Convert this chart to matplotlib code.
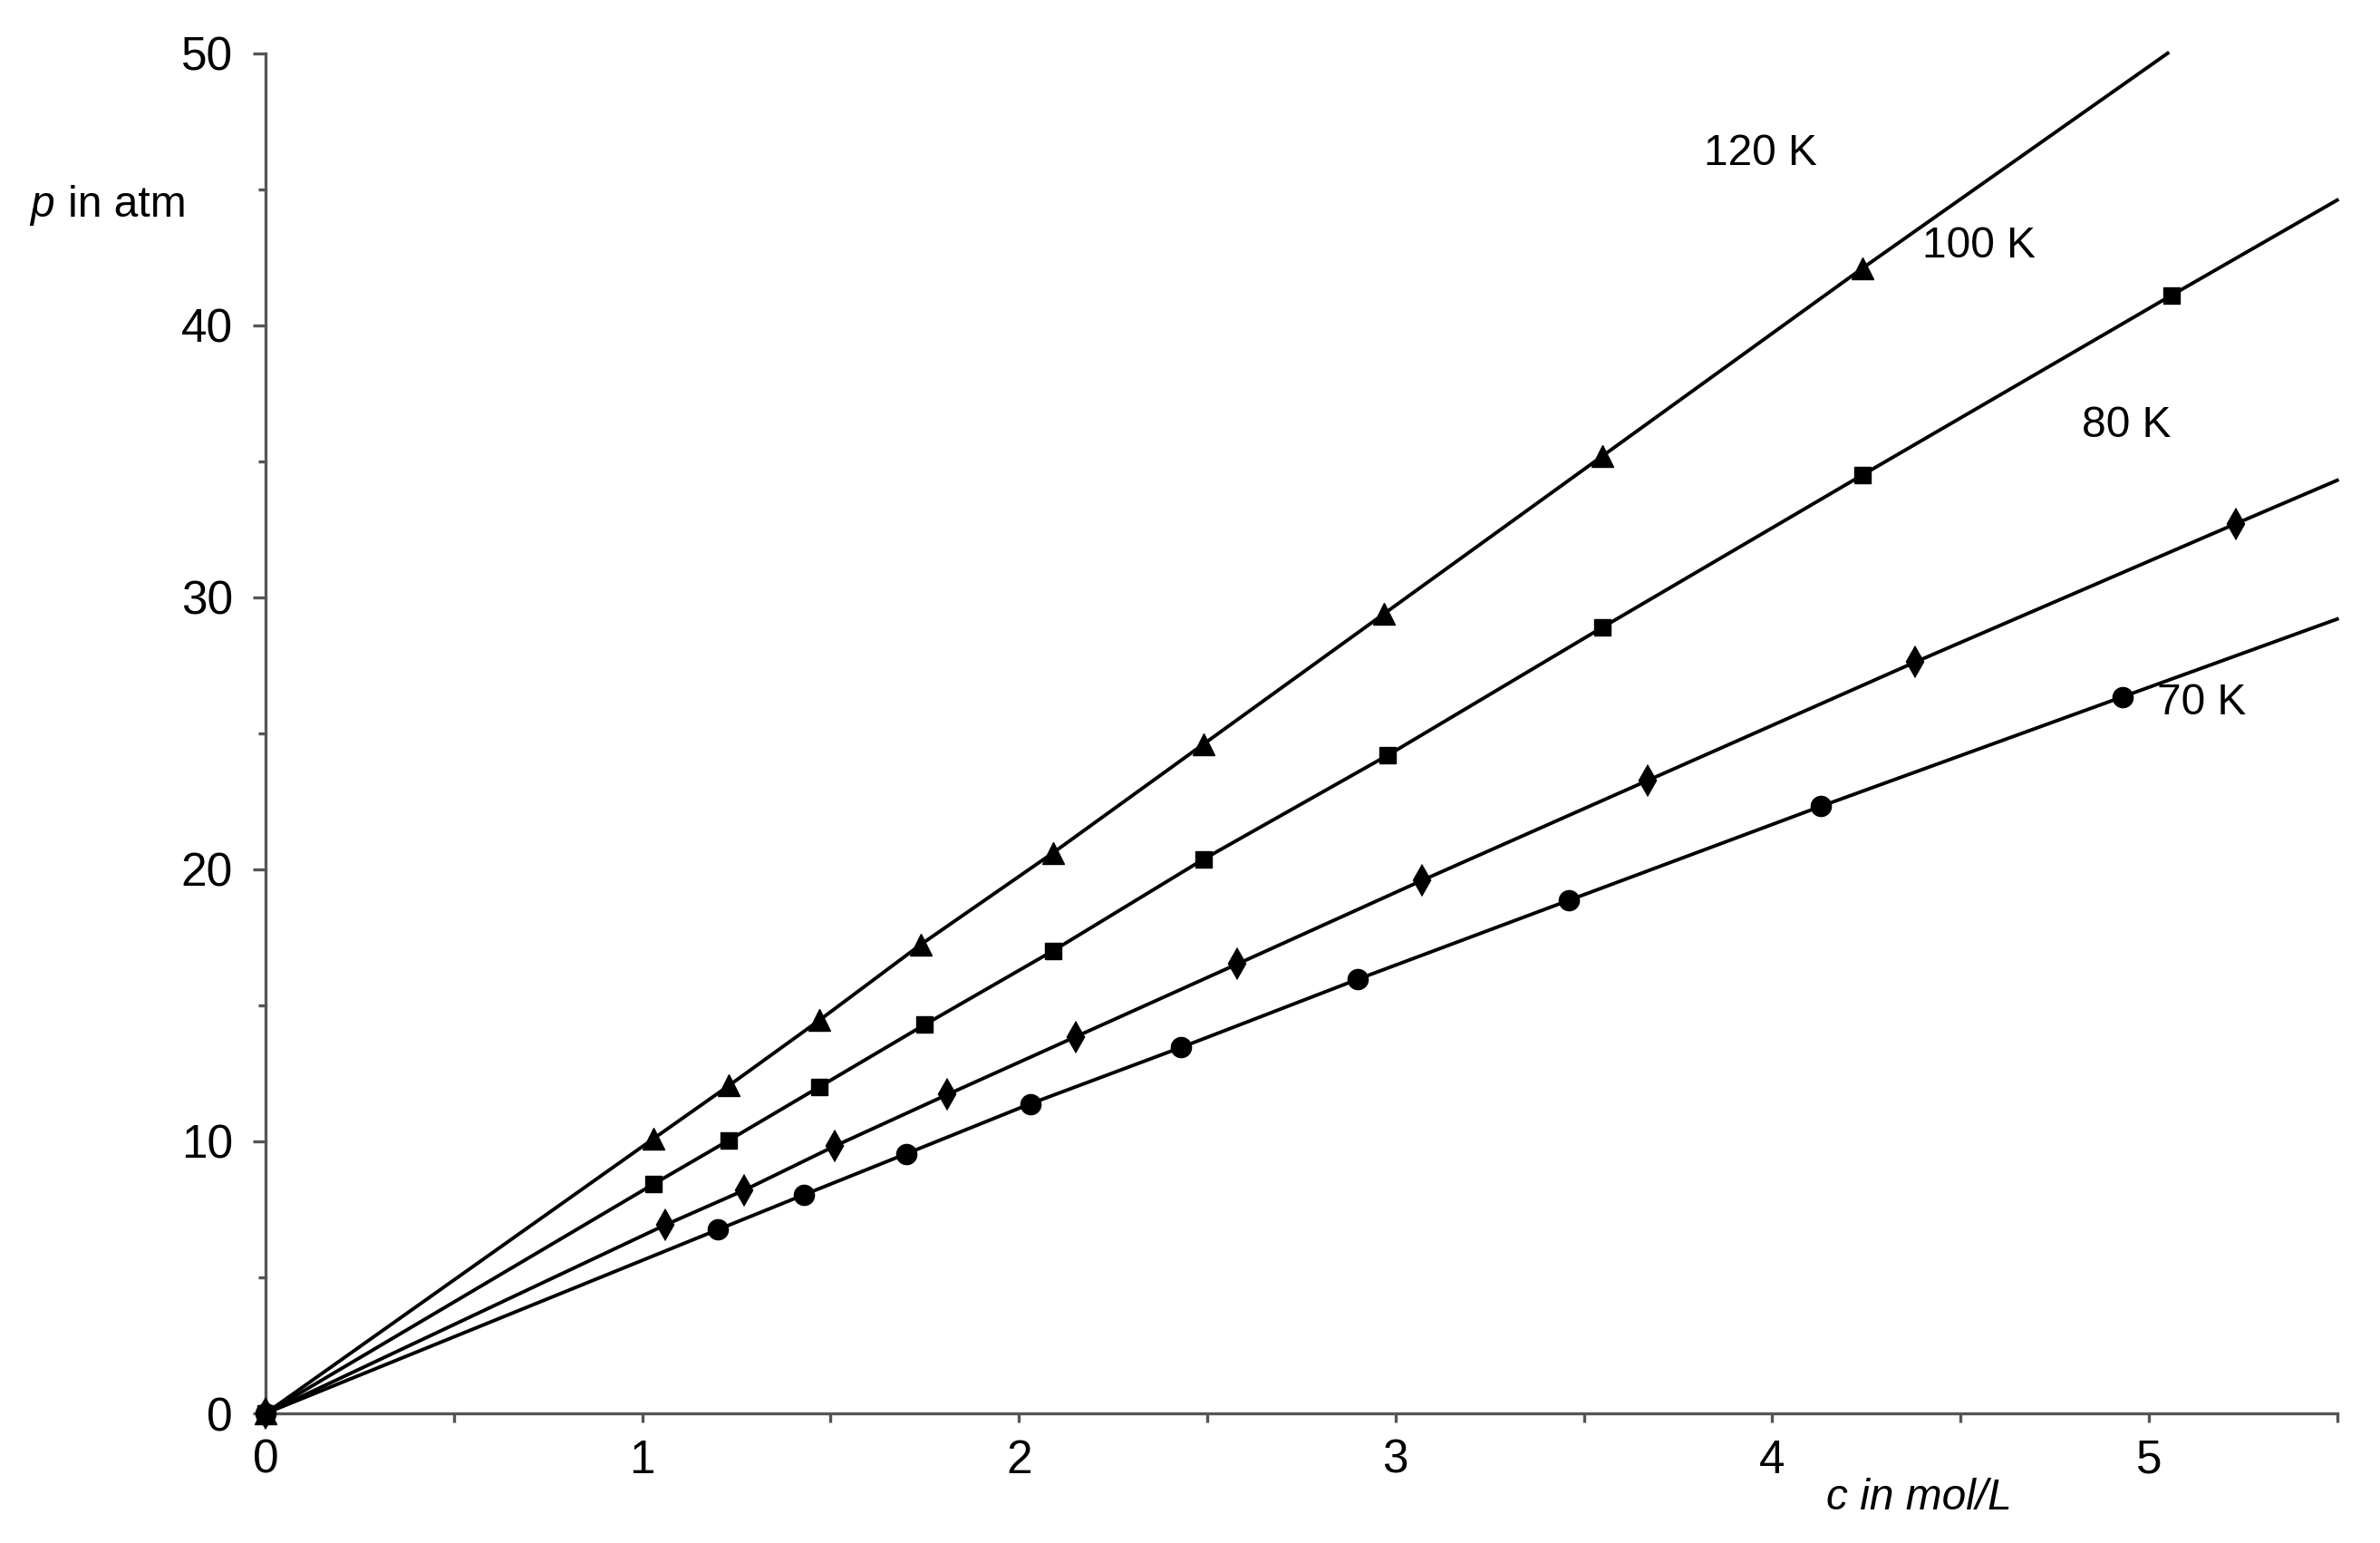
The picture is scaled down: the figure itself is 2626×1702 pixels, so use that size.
import matplotlib.pyplot as plt
from matplotlib.ticker import MultipleLocator

plt.rcParams['font.family'] = ['Liberation Sans', 'DejaVu Sans']

# measured points (c in mol/L, p in atm), origin included
c_120 = [0, 1.03, 1.23, 1.47, 1.74, 2.09, 2.49, 2.97, 3.55, 4.24]
p_120 = [0, 10.1, 12.05, 14.45, 17.24, 20.6, 24.6, 29.4, 35.2, 42.1]
c_100 = [0, 1.03, 1.23, 1.47, 1.75, 2.09, 2.49, 2.98, 3.55, 4.24, 5.06]
p_100 = [0, 8.43, 10.04, 12.0, 14.29, 17.0, 20.37, 24.2, 28.9, 34.5, 41.1]
c_80 = [0, 1.06, 1.27, 1.51, 1.81, 2.15, 2.58, 3.07, 3.67, 4.38, 5.23]
p_80 = [0, 6.92, 8.2, 9.82, 11.72, 13.84, 16.52, 19.59, 23.27, 27.62, 32.7]
c_70 = [0, 1.2, 1.43, 1.70, 2.03, 2.43, 2.90, 3.46, 4.13, 4.93]
p_70 = [0, 6.75, 8.04, 9.54, 11.38, 13.45, 15.96, 18.86, 22.32, 26.34]

# where each curve leaves the plot area
end_120 = (5.05, 50.0)
end_100 = (5.5, 44.6)
end_80 = (5.5, 34.3)
end_70 = (5.5, 29.2)

series = [
    ('120 K', c_120, p_120, end_120, '^', 17, 1, (3.97, 46.3)),
    ('100 K', c_100, p_100, end_100, 's', 12.5, 1, (4.55, 42.9)),
    ('80 K', c_80, p_80, end_80, 'd', 14, 3, (4.94, 36.3)),
    ('70 K', c_70, p_70, end_70, 'o', 16, 1, (5.14, 26.1)),
]

fig = plt.figure(figsize=(26.26, 17.02), dpi=100)
ax = fig.add_axes([0.1116, 0.084, 0.8704, 0.8815])

for name, c, p, end, mk, ms, mew, lab in series:
    ax.plot(list(c) + [end[0]], list(p) + [end[1]], color='black', lw=2.8,
            clip_on=False, zorder=2)
    ax.plot(c, p, linestyle='none', marker=mk, ms=ms, mew=mew, color='black',
            clip_on=False, zorder=3)
    ax.text(lab[0], lab[1], name, fontsize=34.5, ha='center', va='center')

ax.set_xlim(0, 5.5)
ax.set_ylim(0, 50)
ax.xaxis.set_major_locator(MultipleLocator(1))
ax.xaxis.set_minor_locator(MultipleLocator(0.5))
ax.yaxis.set_major_locator(MultipleLocator(10))
ax.yaxis.set_minor_locator(MultipleLocator(5))

for s in ['top', 'right']:
    ax.spines[s].set_visible(False)
for s in ['left', 'bottom']:
    ax.spines[s].set_color('#555555')
    ax.spines[s].set_linewidth(2.4)

ax.tick_params(axis='both', which='both', direction='out', color='#555555',
               width=2.4, labelsize=37)
ax.tick_params(axis='y', which='major', length=10, pad=16)
ax.tick_params(axis='y', which='minor', length=6)
ax.tick_params(axis='x', which='both', length=7, pad=13)

fig.text(0.8065, 0.029, 'c in mol/L', fontsize=34.5, style='italic',
         ha='center', va='center')
fig.text(0.0125, 0.867, 'p', fontsize=34.5, style='italic', ha='left',
         va='center')
fig.text(0.0285, 0.867, 'in atm', fontsize=34.5, ha='left', va='center')

fig.savefig('out.png', dpi=100)
